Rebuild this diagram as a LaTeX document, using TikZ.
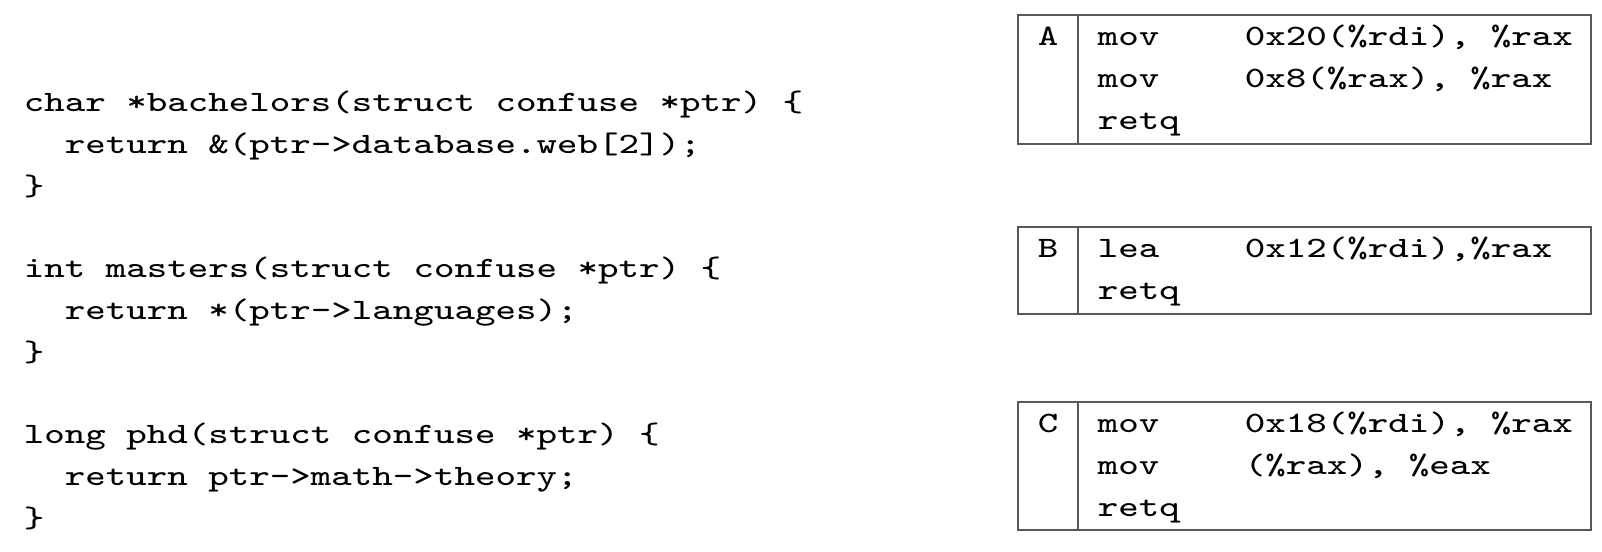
\documentclass[tikz,border=0pt]{standalone}
\usepackage{fontspec}
\setmonofont[FakeStretch=1.305]{Latin Modern Mono}
\usetikzlibrary{positioning}

\begin{document}
\begin{tikzpicture}[
        x=0.25pt, y=-0.25pt,
        code/.style={anchor=base west, inner sep=0pt, font=\ttfamily\fontsize{7.4}{10.4}\selectfont},
        tag/.style={rectangle, draw=black!65, line width=0.45pt, inner sep=0pt, outer sep=0pt, anchor=north west, minimum width=15pt},
        body/.style={rectangle, draw=black!65, line width=0.45pt, inner sep=0pt, outer sep=0pt, minimum width=128.25pt}
    ]
        \useasboundingbox (0,0) rectangle (1602,552);

        % C functions
        \node[code](bach)  at (23,112) {char *bachelors(struct confuse *ptr) \{};
        \node[code](bachr) at (64,154) {return \&(ptr->database.web[2]);};
        \node[code](bache) at (23,196) {\}};

        \node[code](mast)  at (23,278) {int masters(struct confuse *ptr) \{};
        \node[code](mastr) at (64,320) {return *(ptr->languages);};
        \node[code](maste) at (23,362) {\}};

        \node[code](phd)   at (23,444) {long phd(struct confuse *ptr) \{};
        \node[code](phdr)  at (64,486) {return ptr->math->theory;};
        \node[code](phde)  at (23,528) {\}};

        % answer boxes
        \node[tag, minimum height=32.25pt](tagA) at (1018,15) {};
            \node[body, minimum height=32.25pt](boxA)[right=0pt of tagA]{};
        \node[tag, minimum height=21.75pt](tagB) at (1018,227) {};
            \node[body, minimum height=21.75pt](boxB)[right=0pt of tagB]{};
        \node[tag, minimum height=32pt](tagC) at (1018,402) {};
            \node[body, minimum height=32pt](boxC)[right=0pt of tagC]{};

        % box A
        \node[code, anchor=base](labA) at (1048,46) {A};
        \node[code](opA1)  at (1097,46)  {mov};
        \node[code](argA1) at (1244,46)  {0x20(\%rdi), \%rax};
        \node[code](opA2)  at (1097,88)  {mov};
        \node[code](argA2) at (1244,88)  {0x8(\%rax), \%rax};
        \node[code](opA3)  at (1097,130) {retq};

        % box B
        \node[code, anchor=base](labB) at (1048,258) {B};
        \node[code](opB1)  at (1097,258) {lea};
        \node[code](argB1) at (1244,258) {0x12(\%rdi),\%rax};
        \node[code](opB2)  at (1097,300) {retq};

        % box C
        \node[code, anchor=base](labC) at (1048,433) {C};
        \node[code](opC1)  at (1097,433) {mov};
        \node[code](argC1) at (1244,433) {0x18(\%rdi), \%rax};
        \node[code](opC2)  at (1097,475) {mov};
        \node[code](argC2) at (1244,475) {(\%rax), \%eax};
        \node[code](opC3)  at (1097,517) {retq};
    \end{tikzpicture}
\end{document}
